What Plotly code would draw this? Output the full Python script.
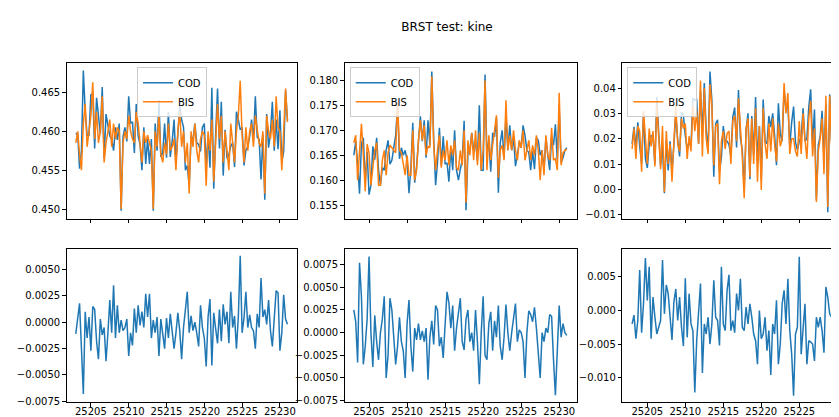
import numpy as np
import plotly.graph_objects as go

# ---------------- data ----------------
x_start = 25203.0
x_step = 0.25

cod_1 = [0.4596, 0.4598, 0.4552, 0.4575, 0.4678, 0.4625, 0.4595, 0.4595, 0.4647, 0.4648,
         0.4578, 0.4643, 0.4620, 0.4597, 0.4657, 0.4565, 0.4622, 0.4610, 0.4594, 0.4590,
         0.4575, 0.4605, 0.4589, 0.4610, 0.4498, 0.4593, 0.4605, 0.4587, 0.4645, 0.4610,
         0.4612, 0.4572, 0.4635, 0.4594, 0.4583, 0.4550, 0.4605, 0.4558, 0.4590, 0.4558,
         0.4590, 0.4498, 0.4610, 0.4575, 0.4640, 0.4567, 0.4572, 0.4610, 0.4566, 0.4625,
         0.4567, 0.4587, 0.4615, 0.4560, 0.4591, 0.4633, 0.4615, 0.4605, 0.4550, 0.4556,
         0.4530, 0.4594, 0.4588, 0.4610, 0.4585, 0.4583, 0.4574, 0.4605, 0.4610, 0.4555,
         0.4595, 0.4553, 0.4656, 0.4526, 0.4596, 0.4655, 0.4578, 0.4638, 0.4543, 0.4602,
         0.4565, 0.4570, 0.4581, 0.4585, 0.4554, 0.4625, 0.4615, 0.4602, 0.4605, 0.4556,
         0.4576, 0.4580, 0.4593, 0.4615, 0.4588, 0.4645, 0.4592, 0.4590, 0.4538, 0.4595,
         0.4512, 0.4622, 0.4579, 0.4598, 0.4638, 0.4575, 0.4615, 0.4577, 0.4627, 0.4560,
         0.4574, 0.4652, 0.4614]
bis_1 = [0.4585, 0.4600, 0.4570, 0.4550, 0.4610, 0.4635, 0.4580, 0.4600, 0.4620, 0.4663,
         0.4590, 0.4625, 0.4585, 0.4600, 0.4645, 0.4560, 0.4585, 0.4600, 0.4615, 0.4580,
         0.4610, 0.4590, 0.4605, 0.4600, 0.4500, 0.4585, 0.4600, 0.4590, 0.4620, 0.4600,
         0.4590, 0.4585, 0.4625, 0.4610, 0.4580, 0.4560, 0.4600, 0.4585, 0.4595, 0.4585,
         0.4575, 0.4500, 0.4600, 0.4580, 0.4620, 0.4570, 0.4560, 0.4585, 0.4570, 0.4610,
         0.4575, 0.4580, 0.4590, 0.4550, 0.4600, 0.4625, 0.4580, 0.4600, 0.4560, 0.4585,
         0.4520, 0.4600, 0.4580, 0.4610, 0.4575, 0.4560, 0.4590, 0.4600, 0.4595, 0.4530,
         0.4600, 0.4575, 0.4615, 0.4535, 0.4590, 0.4635, 0.4590, 0.4620, 0.4560, 0.4600,
         0.4575, 0.4550, 0.4610, 0.4580, 0.4560, 0.4600, 0.4620, 0.4665, 0.4595, 0.4560,
         0.4605, 0.4575, 0.4600, 0.4610, 0.4580, 0.4620, 0.4600, 0.4585, 0.4580, 0.4600,
         0.4520, 0.4620, 0.4600, 0.4590, 0.4615, 0.4580, 0.4645, 0.4605, 0.4600, 0.4550,
         0.4600, 0.4655, 0.4612]
# difference panels, values in units of 1e-3
diff_1_milli = [-1.1, 0.2, 1.8, -2.5, -6.8, 1.0, -1.5, 0.5, -2.7, 1.5, 1.2, -1.8, -3.5, 0.3, -1.2,
                -0.5, -3.7, -1.0, 2.1, -1.0, 3.5, -1.5, 1.6, -1.0, 0.2, -0.8, -0.5, 0.3, -3.2, -1.0,
                -2.2, 1.3, -1.0, 1.6, -0.3, 1.0, -0.5, 2.7, 0.5, 2.7, -1.5, 0.2, -1.0, 0.5, -3.2,
                0.3, -1.2, -2.5, 0.4, -1.5, 0.8, -0.7, -2.5, -1.0, 0.9, -0.8, -3.5, -0.5, 1.0, 2.9,
                -1.0, 0.6, -0.8, 0.0, -1.0, -2.3, 1.6, -0.5, -1.5, -4.2, 0.5, 2.2, -4.1, 0.9, -0.6,
                -2.0, 1.2, -1.8, 1.7, -0.2, 1.0, -2.0, 2.9, -0.5, 0.6, -2.5, 0.5, 6.3, -1.0, 0.4,
                2.9, -0.5, 0.7, -0.5, -0.8, -2.5, 0.8, -0.5, 4.2, 0.5, 1.2, -0.2, 2.1, -0.8, -2.3,
                0.5, 3.0, 2.8, -2.7, -1.0, 2.6, 0.3, -0.2]

cod_2 = [0.1650, 0.1678, 0.1633, 0.1573, 0.1673, 0.1685, 0.1593, 0.1657, 0.1571, 0.1590,
         0.1668, 0.1641, 0.1685, 0.1620, 0.1590, 0.1625, 0.1620, 0.1660, 0.1680, 0.1632,
         0.1640, 0.1670, 0.1690, 0.1750, 0.1643, 0.1665, 0.1650, 0.1660, 0.1640, 0.1574,
         0.1625, 0.1715, 0.1595, 0.1628, 0.1670, 0.1728, 0.1678, 0.1720, 0.1645, 0.1720,
         0.1670, 0.1818, 0.1683, 0.1590, 0.1635, 0.1705, 0.1630, 0.1688, 0.1632, 0.1635,
         0.1597, 0.1665, 0.1620, 0.1700, 0.1620, 0.1600, 0.1622, 0.1640, 0.1719, 0.1540,
         0.1655, 0.1660, 0.1695, 0.1660, 0.1675, 0.1640, 0.1750, 0.1620, 0.1620, 0.1812,
         0.1650, 0.1680, 0.1617, 0.1695, 0.1687, 0.1725, 0.1575, 0.1675, 0.1700, 0.1645,
         0.1729, 0.1660, 0.1710, 0.1660, 0.1685, 0.1628, 0.1650, 0.1677, 0.1665, 0.1710,
         0.1690, 0.1660, 0.1656, 0.1620, 0.1658, 0.1622, 0.1685, 0.1680, 0.1650, 0.1660,
         0.1620, 0.1685, 0.1650, 0.1620, 0.1687, 0.1670, 0.1712, 0.1640, 0.1745, 0.1635,
         0.1645, 0.1660, 0.1665]
bis_2 = [0.1675, 0.1690, 0.1600, 0.1650, 0.1713, 0.1650, 0.1578, 0.1672, 0.1655, 0.1590,
         0.1630, 0.1660, 0.1675, 0.1590, 0.1590, 0.1640, 0.1660, 0.1610, 0.1655, 0.1670,
         0.1665, 0.1660, 0.1655, 0.1758, 0.1660, 0.1655, 0.1630, 0.1610, 0.1650, 0.1610,
         0.1610, 0.1700, 0.1600, 0.1620, 0.1680, 0.1720, 0.1680, 0.1710, 0.1650, 0.1668,
         0.1665, 0.1808, 0.1670, 0.1620, 0.1660, 0.1690, 0.1625, 0.1660, 0.1640, 0.1680,
         0.1630, 0.1670, 0.1650, 0.1680, 0.1625, 0.1620, 0.1660, 0.1630, 0.1700, 0.1555,
         0.1680, 0.1650, 0.1695, 0.1640, 0.1700, 0.1630, 0.1695, 0.1620, 0.1660, 0.1800,
         0.1620, 0.1690, 0.1640, 0.1675, 0.1700, 0.1730, 0.1605, 0.1660, 0.1670, 0.1640,
         0.1760, 0.1660, 0.1690, 0.1660, 0.1700, 0.1660, 0.1640, 0.1680, 0.1665, 0.1700,
         0.1640, 0.1660, 0.1680, 0.1640, 0.1670, 0.1650, 0.1690, 0.1660, 0.1600, 0.1660,
         0.1610, 0.1690, 0.1650, 0.1640, 0.1705, 0.1640, 0.1643, 0.1620, 0.1775, 0.1630,
         0.1655, 0.1660, 0.1662]
diff_2_milli = [2.5, 1.2, -3.3, 7.7, 4.0, -3.5, -1.5, 1.5, 8.4, 0.0, -3.8, 1.9, -1.0, -3.0, 0.0,
                1.5, 4.0, -5.0, -2.5, 3.8, 2.5, -1.0, -3.5, -1.5, 1.7, -1.0, -2.0, -5.0, 1.0, 3.6,
                -1.5, -4.3, 0.5, -0.8, 1.0, -0.8, 0.2, -1.0, 0.5, -5.2, -0.5, 1.3, -1.3, 3.0, 2.5,
                -1.5, -0.5, -2.8, 0.8, 4.5, 3.3, 0.5, 3.0, -2.0, 0.5, 2.0, 3.8, -1.0, -1.9, 1.5,
                2.5, -1.0, 0.0, -2.0, 2.5, -1.0, -5.7, 0.0, 4.0, -2.5, -3.0, 1.0, 2.3, -2.0, 1.3,
                -0.5, 3.0, -1.5, -3.0, -0.5, 3.1, 0.0, -2.0, 0.0, 1.5, 3.2, -1.0, 0.3, 0.0, -1.0,
                -5.0, 0.0, 2.4, 2.0, 1.2, 2.8, 0.5, -2.0, -5.0, 0.0, -1.0, 0.5, 0.0, 2.0, 1.8,
                -3.0, -6.9, -2.0, 3.0, -0.5, 1.0, 0.0, -0.3]

cod_3 = [0.0180, 0.0247, 0.0162, 0.0265, 0.0170, 0.0103, 0.0300, 0.0122, 0.0085, 0.0175,
         0.0212, 0.0210, 0.0100, 0.0365, 0.0225, 0.0095, 0.0175, -0.0015, 0.0192, 0.0075,
         0.0190, 0.0074, 0.0177, 0.0298, 0.0195, 0.0130, 0.0305, 0.0293, 0.0212, 0.0160,
         0.0185, 0.0170, 0.0360, 0.0352, 0.0355, 0.0180, 0.0390, 0.0223, 0.0420, 0.0235,
         0.0150, 0.0465, 0.0350, 0.0050, 0.0260, 0.0275, 0.0072, 0.0125, 0.0250, 0.0190,
         0.0190, 0.0177, 0.0130, 0.0285, 0.0323, 0.0165, 0.0392, 0.0203, 0.0155, -0.0005,
         0.0235, 0.0300, 0.0040, 0.0290, 0.0135, 0.0365, 0.0110, 0.0250, 0.0040, 0.0355,
         0.0190, 0.0180, 0.0290, 0.0246, 0.0300, 0.0215, 0.0095, 0.0340, 0.0220, 0.0190,
         0.0390, 0.0320, 0.0333, 0.0170, 0.0265, 0.0327, 0.0185, 0.0155, 0.0190, 0.0205,
         0.0320, 0.0190, 0.0200, 0.0325, 0.0395, 0.0180, 0.0315, -0.0040, 0.0175, 0.0210,
         0.0310, 0.0123, 0.0335, -0.0090, 0.0375, 0.0190, 0.0125, 0.0325, 0.0215, 0.0340,
         0.0175, 0.0280, 0.0300]
bis_3 = [0.0160, 0.0240, 0.0120, 0.0250, 0.0230, 0.0070, 0.0310, 0.0200, 0.0100, 0.0240,
         0.0170, 0.0230, 0.0090, 0.0335, 0.0200, 0.0080, 0.0250, -0.0010, 0.0230, 0.0100,
         0.0180, 0.0030, 0.0190, 0.0330, 0.0180, 0.0150, 0.0280, 0.0240, 0.0260, 0.0120,
         0.0210, 0.0150, 0.0330, 0.0230, 0.0310, 0.0180, 0.0430, 0.0130, 0.0400, 0.0200,
         0.0140, 0.0415, 0.0330, 0.0095, 0.0250, 0.0260, 0.0020, 0.0190, 0.0230, 0.0160,
         0.0220, 0.0230, 0.0100, 0.0270, 0.0290, 0.0190, 0.0360, 0.0250, 0.0130, -0.0035,
         0.0240, 0.0280, 0.0050, 0.0280, 0.0100, 0.0320, 0.0030, 0.0250, -0.0002, 0.0320,
         0.0180, 0.0120, 0.0260, 0.0150, 0.0280, 0.0180, 0.0110, 0.0260, 0.0170, 0.0200,
         0.0420, 0.0300, 0.0380, 0.0140, 0.0200, 0.0200, 0.0150, 0.0130, 0.0270, 0.0140,
         0.0300, 0.0200, 0.0120, 0.0280, 0.0350, 0.0130, 0.0240, -0.0050, 0.0150, 0.0200,
         0.0280, 0.0060, 0.0370, -0.0070, 0.0370, 0.0180, 0.0120, 0.0280, 0.0180, 0.0300,
         0.0100, 0.0270, 0.0290]
diff_3_milli = [-2.0, -0.7, -4.2, -1.5, 6.0, -3.3, 1.0, 7.8, 1.5, 6.5, -4.2, 2.0, -1.0, -3.5, -2.5,
                -1.5, 7.5, -0.5, 3.8, 2.5, -1.0, -4.4, 1.3, 3.2, -1.5, 2.0, -2.5, -5.3, 4.8, -4.0,
                2.5, -2.0, -3.0, -12.2, -4.5, 0.0, 4.0, -9.3, -2.0, -3.5, -1.0, -5.0, -2.0, 4.5, -1.0,
                -1.5, -5.2, 6.5, -2.0, -3.0, 3.0, 5.3, -3.0, -1.5, -3.3, 2.5, 0.0, 4.7, -2.5, -3.0,
                0.5, -2.0, 1.0, -1.0, -3.5, -4.5, -8.0, 0.0, -4.2, -3.5, -1.0, -6.0, -3.0, -9.6, -2.0,
                -3.5, 1.5, -8.0, -5.0, 1.0, 3.0, -2.0, 4.7, -3.0, -6.5, -12.7, -3.5, -2.5, 8.0, -6.5,
                -2.0, 1.0, -8.0, -4.5, -4.7, -5.0, -7.5, -1.0, -2.5, -1.0, -3.0, -6.3, 3.5, 2.0, -0.5,
                -1.0, -0.5, -4.5, -3.5, -4.0, -7.5, -1.0, -1.0]

title_text = "BRST test: kine"
x_tick_vals = [25205, 25210, 25215, 25220, 25225, 25230]


def xs(n):
    return x_start + x_step * np.arange(n)


# ---------------- figure ----------------
BLUE = "#1f77b4"
ORANGE = "#ff7f0e"
FONT = "DejaVu Sans"
W, H = 839, 417

fig = go.Figure()

top = [(cod_1, bis_1, "legend"), (cod_2, bis_2, "legend2"), (cod_3, bis_3, "legend3")]
for k, (c, b, lg) in enumerate(top, start=1):
    ax = "" if k == 1 else str(k)
    fig.add_trace(go.Scatter(x=xs(len(c)), y=c, mode="lines", name="COD",
                             line=dict(color=BLUE, width=1.5), xaxis="x" + ax, yaxis="y" + ax,
                             legend=lg))
    fig.add_trace(go.Scatter(x=xs(len(b)), y=b, mode="lines", name="BIS",
                             line=dict(color=ORANGE, width=1.5), xaxis="x" + ax, yaxis="y" + ax,
                             legend=lg))

bottom = [diff_1_milli, diff_2_milli, diff_3_milli]
for k, d in enumerate(bottom, start=4):
    fig.add_trace(go.Scatter(x=xs(len(d)), y=np.array(d) / 1000.0, mode="lines",
                             line=dict(color=BLUE, width=1.5), showlegend=False,
                             xaxis="x%d" % k, yaxis="y%d" % k))

# pixel geometry of the panels
col_px = [(58.7, 289.3), (336.7, 568.7), (614.3, 839.0)]
row_px = [(56.0, 213.5), (244.3, 399.0)]
x_ranges = [[25201.8, 25232.3], [25201.8, 25232.3], [25201.71, 25231.28]]
y_ranges = [[0.44873, 0.46873], [0.15224, 0.18342], [-0.01168, 0.04977],
            [-0.00759, 0.006917], [-0.00768, 0.00919], [-0.01365, 0.00909]]
y_dticks = [0.005, 0.005, 0.01, 0.0025, 0.0025, 0.005]
y_formats = [".3f", ".3f", ".2f", ".4f", ".4f", ".3f"]

tickfont = dict(family=FONT, size=10, color="#000000")
axis_common = dict(showline=True, linecolor="#000000", linewidth=1, ticks="outside",
                   ticklen=3.5, tickwidth=0.8, tickcolor="#000000", showgrid=False,
                   zeroline=False, tickfont=tickfont)

layout = {}
for r in range(2):
    for cidx in range(3):
        k = r * 3 + cidx + 1
        suffix = "" if k == 1 else str(k)
        x0, x1 = col_px[cidx]
        yt, yb = row_px[r]
        xa = dict(domain=[x0 / W, min(x1 / W, 1.0)], range=x_ranges[cidx],
                  anchor="y" + suffix, tickmode="array", tickvals=x_tick_vals,
                  tickformat="d", showticklabels=(r == 1), mirror=True, **axis_common)
        if r == 1:
            xa["ticklabelstandoff"] = -4
        layout["xaxis" + suffix] = xa
        layout["yaxis" + suffix] = dict(
            domain=[1 - yb / H, 1 - yt / H], range=y_ranges[k - 1],
            anchor="x" + suffix, dtick=y_dticks[k - 1], tick0=0,
            tickformat=y_formats[k - 1], mirror=(cidx != 2), **axis_common)

legend_style = dict(font=dict(family=FONT, size=10, color="#000000"),
                    bgcolor="rgba(255,255,255,0.8)", bordercolor="#cccccc", borderwidth=1,
                    tracegroupgap=0, itemwidth=30, yanchor="top", y=1 - 60.0 / H)
layout["legend"] = dict(x=164.0 / W, xanchor="center", **legend_style)
layout["legend2"] = dict(x=341.7 / W, xanchor="left", **legend_style)
layout["legend3"] = dict(x=619.3 / W, xanchor="left", **legend_style)

fig.update_layout(
    width=W, height=H,
    margin=dict(l=0, r=0, t=0, b=0),
    paper_bgcolor="white", plot_bgcolor="white",
    font=dict(family=FONT, size=10, color="#000000"),
    title=dict(text=title_text, x=439.0 / W, xanchor="center", y=1 - 18.5 / H,
               yanchor="middle", font=dict(family=FONT, size=12, color="#000000")),
    **layout,
)

fig.write_html("out.html")
